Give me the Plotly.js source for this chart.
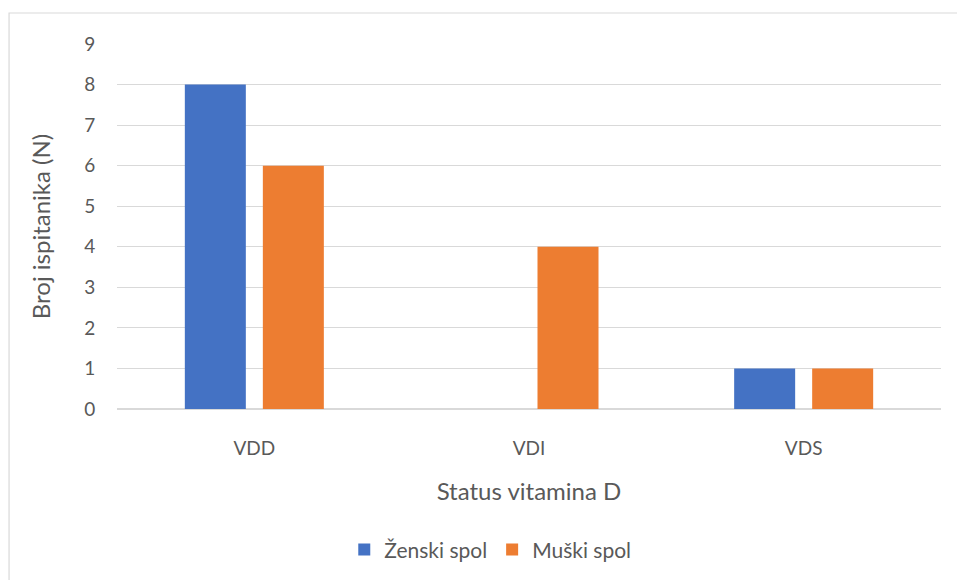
<!DOCTYPE html>
<html>
<head>
<meta charset="utf-8">
<script src="https://cdn.plot.ly/plotly-3.0.1.min.js"></script>
<style>html,body{margin:0;padding:0;background:#fff;}#chart{width:957px;height:580px;}</style>
</head>
<body>
<div id="chart"></div>
<script>
const categories = ["VDD", "VDI", "VDS"];
const seriesNames = ["Ženski spol", "Muški spol"];
const zenskiValues = [8, 0, 1];
const muskiValues = [6, 4, 1];
const yTicks = [0, 1, 2, 3, 4, 5, 6, 7, 8, 9];

const font = {family: "Lato, 'Open Sans', sans-serif", color: "#595959"};

const data = [
  {type: "bar", name: seriesNames[0], x: categories, y: zenskiValues, marker: {color: "#4472C4"}},
  {type: "bar", name: seriesNames[1], x: categories, y: muskiValues, marker: {color: "#ED7D31"}}
];

const layout = {
  width: 957, height: 580,
  margin: {l: 117, r: 16, t: 44, b: 171, autoexpand: false},
  paper_bgcolor: "#ffffff", plot_bgcolor: "#ffffff",
  font: font,
  barmode: "group",
  bargap: 0.432,
  bargroupgap: 0.218,
  showlegend: true,
  legend: {orientation: "h", x: 0.453, xanchor: "center", y: -0.386, yanchor: "middle",
    font: {family: font.family, color: "#595959", size: 21}, itemwidth: 30, traceorder: "normal"},
  xaxis: {
    type: "category", automargin: false,
    showgrid: false, showline: false, zeroline: false,
    ticks: "outside", ticklen: 22, tickcolor: "rgba(0,0,0,0)",
    tickfont: {family: font.family, color: "#595959", size: 19},
    title: {text: "Status vitamina D", font: {family: font.family, color: "#595959", size: 24}, standoff: 25}
  },
  yaxis: {
    range: [0, 9], tickvals: yTicks, automargin: false,
    showgrid: true, gridcolor: "#d9d9d9", gridwidth: 1,
    zeroline: true, zerolinecolor: "#d9d9d9", zerolinewidth: 1.5,
    showline: false,
    ticks: "outside", ticklen: 17, tickcolor: "rgba(0,0,0,0)",
    tickfont: {family: font.family, color: "#595959", size: 19},
    title: {text: "Broj ispitanika (N)", font: {family: font.family, color: "#595959", size: 24}, standoff: 26}
  },
  shapes: [{type: "rect", xref: "paper", yref: "paper",
    x0: -0.131, x1: 1.2, y0: -0.7, y1: 1.085,
    line: {color: "#d9d9d9", width: 1.2}, fillcolor: "rgba(0,0,0,0)", layer: "below"}]
};

Plotly.newPlot("chart", data, layout, {displayModeBar: false, staticPlot: true});
</script>
</body>
</html>
